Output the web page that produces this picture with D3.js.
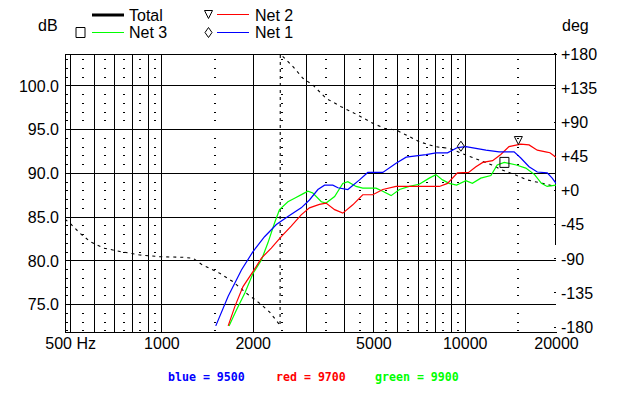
<!DOCTYPE html>
<html>
<head>
<meta charset="utf-8">
<script src="https://cdn.jsdelivr.net/npm/d3@7"></script>
<style>
  body { margin: 0; background: #fff; }
  text { font-family: "Liberation Sans", Arial, sans-serif; }
</style>
</head>
<body>
<script>
const width = 624;
const height = 396;
const plotLeft = 65, plotRight = 556, plotTop = 54, plotBottom = 332;

// frequency (Hz), level (dB)
const net1 = [
  [1511, 72.5], [1660, 75.9], [1836, 78.9], [2004, 81.0], [2188, 82.7],
  [2393, 84.1], [2613, 85.0], [2890, 86.0], [3077, 86.9], [3281, 88.1],
  [3451, 88.6], [3675, 88.6], [3819, 88.3], [4118, 88.1], [4500, 89.2],
  [4791, 90.05], [5369, 90.05], [5940, 91.1], [6411, 91.8], [7456, 92.1],
  [8040, 92.3], [8778, 92.3], [9463, 92.9], [10090, 93.0], [10890, 92.8],
  [11750, 92.6], [12980, 92.4], [14550, 92.4], [15310, 91.7], [16300, 90.7],
  [17350, 90.1], [18710, 90.0], [19430, 89.4], [20000, 88.8],
];
const net2 = [
  [1660, 72.5], [1746, 74.7], [1858, 77.0], [2004, 78.7], [2137, 80.25],
  [2303, 81.4], [2484, 82.7], [2679, 83.9], [2890, 85.2], [3077, 86.0],
  [3320, 86.4], [3490, 86.55], [3725, 85.8], [3964, 85.4], [4276, 86.35],
  [4612, 87.5], [4977, 87.5], [5369, 88.1], [5940, 88.45], [7456, 88.45],
  [8250, 88.45], [8778, 88.8], [9463, 90.0], [10300, 90.05], [10890, 90.7],
  [11470, 91.2], [12360, 91.4], [13150, 92.1], [14000, 93.0], [15300, 93.3],
  [16300, 93.2], [17350, 92.6], [18490, 92.4], [19100, 92.3], [20000, 91.8],
];
const net3 = [
  [1671, 72.5], [1766, 74.3], [1884, 76.25], [2004, 78.5], [2137, 80.05],
  [2245, 82.0], [2362, 84.3], [2452, 85.8], [2613, 86.7], [2749, 87.1],
  [2926, 87.6], [3040, 87.9], [3157, 87.7], [3367, 86.7], [3490, 86.55],
  [3725, 87.3], [3964, 88.8], [4118, 89.0], [4385, 88.45], [4612, 88.26],
  [5100, 88.26], [5369, 87.9], [5720, 87.4], [6095, 88.1], [6565, 88.45],
  [7080, 88.7], [7640, 89.4], [8040, 89.8], [8450, 89.2], [8890, 88.8],
  [9400, 88.6], [10090, 89.1], [10600, 88.8], [11300, 89.4], [12200, 89.7],
  [12800, 90.9], [13500, 91.2], [14800, 90.9], [15900, 90.55], [17000, 89.8],
  [17900, 88.8], [18700, 88.45], [20000, 88.6],
];
// frequency (Hz), phase (deg)
const totalPhase = [
  [481, -38.6], [500, -43.9], [539, -57], [582, -68], [644, -76.5],
  [730, -81], [849, -85.6], [989, -87.9], [1180, -88.7], [1273, -90],
  [1355, -97.9], [1557, -109.8], [1721, -120.8], [1906, -136], [2109, -149.3],
  [2275, -161], [2423, -174.8], [2462, -179], [2466, 179], [2506, 176.5],
  [2716, 162.5], [2928, 147.2], [3157, 138.4], [3490, 120.8], [3914, 109.8],
  [4440, 98.8], [4977, 87.9], [5438, 81.3], [5940, 79], [6411, 72.5],
  [7080, 63.6], [8025, 57], [8890, 54.9], [10090, 46.1], [11170, 39.5],
  [12300, 32.9], [13300, 26.4], [14720, 19.8], [16090, 13.2], [18030, 8.8],
  [20000, 4.3],
];

// markers: [freq, dB]
const net1Marker = [9716, 93.05];
const net2Marker = [15030, 93.7];
const net3Marker = [13520, 91.2];

const dbTicks = [75, 80, 85, 90, 95, 100];
const degTicks = [-180, -135, -90, -45, 0, 45, 90, 135, 180];
const freqMajor = [500, 600, 700, 800, 900, 1000, 2000, 3000, 4000, 5000,
  6000, 7000, 8000, 9000, 10000];
const freqMinor = [490, 550, 650, 750, 850, 950, 1500, 2500, 3500, 4500,
  5500, 6500, 7500, 8500, 9500, 15000];
const freqLabels = [500, 1000, 2000, 5000, 10000, 20000];

const svg = d3.select("body").append("svg")
  .attr("width", width)
  .attr("height", height);

const x = d3.scaleLog().domain([481, 20000]).range([plotLeft, plotRight]);
const yDb = d3.scaleLinear().domain([71.8, 103.6]).range([plotBottom, plotTop]);
const yDeg = d3.scaleLinear().domain([-180, 180]).range([326.6, 53.4]);

// grid
const grid = svg.append("g").attr("shape-rendering", "crispEdges");

// minor dots, one every dB
const dbMinor = d3.range(72, 104).filter((d) => d % 5 !== 0);
freqMinor.forEach((f) => {
  grid.selectAll(null)
    .data(dbMinor)
    .enter()
    .append("line")
    .attr("x1", Math.round(x(f)) - 1)
    .attr("x2", Math.round(x(f)) + 1)
    .attr("y1", (d) => Math.round(yDb(d)) + 0.5)
    .attr("y2", (d) => Math.round(yDb(d)) + 0.5)
    .attr("stroke", "#000");
});

grid.selectAll(".hgrid")
  .data(dbTicks)
  .enter()
  .append("line")
  .attr("x1", plotLeft)
  .attr("x2", plotRight)
  .attr("y1", (d) => Math.round(yDb(d)) + 0.5)
  .attr("y2", (d) => Math.round(yDb(d)) + 0.5)
  .attr("stroke", "#000");

grid.selectAll(".vgrid")
  .data(freqMajor)
  .enter()
  .append("line")
  .attr("x1", (d) => Math.round(x(d)) + 0.5)
  .attr("x2", (d) => Math.round(x(d)) + 0.5)
  .attr("y1", plotTop)
  .attr("y2", plotBottom)
  .attr("stroke", "#000");

// frame
grid.append("line")
  .attr("x1", plotLeft).attr("x2", plotRight + 1)
  .attr("y1", plotTop + 0.5).attr("y2", plotTop + 0.5)
  .attr("stroke", "#000");
grid.append("line")
  .attr("x1", plotLeft).attr("x2", plotRight + 1)
  .attr("y1", plotBottom + 0.5).attr("y2", plotBottom + 0.5)
  .attr("stroke", "#000");
grid.append("line")
  .attr("x1", plotLeft + 0.5).attr("x2", plotLeft + 0.5)
  .attr("y1", plotTop).attr("y2", plotBottom)
  .attr("stroke", "#000");
grid.append("line")
  .attr("x1", x(20000) - 0.5).attr("x2", x(20000) - 0.5)
  .attr("y1", plotTop).attr("y2", 245)
  .attr("stroke", "#000");

// axes
const fontCss = "16px 'Liberation Sans', Arial, sans-serif";

const dbAxis = d3.axisLeft(yDb)
  .tickValues(dbTicks)
  .tickFormat(d3.format(".1f"))
  .tickSize(0)
  .tickPadding(6);
svg.append("g")
  .attr("transform", `translate(${plotLeft},0)`)
  .call(dbAxis)
  .call((g) => g.select(".domain").remove())
  .selectAll("text")
  .style("font", fontCss)
  .attr("dy", "0.36em");

const degAxis = d3.axisRight(yDeg)
  .tickValues(degTicks)
  .tickFormat((d) => (d > 0 ? "+" + d : d === 0 ? "+0" : "-" + Math.abs(d)))
  .tickSizeInner(-2)
  .tickSizeOuter(0)
  .tickPadding(5);
svg.append("g")
  .attr("transform", `translate(${plotRight},0)`)
  .attr("shape-rendering", "crispEdges")
  .call(degAxis)
  .call((g) => g.select(".domain").remove())
  .selectAll("text")
  .style("font", fontCss)
  .attr("dy", "0.36em");

const freqAxis = d3.axisBottom(x)
  .tickValues(freqLabels)
  .tickFormat((d) => (d === 500 ? "500 Hz" : d))
  .tickSize(0)
  .tickPadding(5.5);
svg.append("g")
  .attr("transform", `translate(0,${plotBottom})`)
  .call(freqAxis)
  .call((g) => g.select(".domain").remove())
  .selectAll("text")
  .style("font", fontCss);

svg.append("text").attr("x", 38).attr("y", 31).style("font", fontCss).text("dB");
svg.append("text").attr("x", 562).attr("y", 31).style("font", fontCss).text("deg");

// curves
svg.append("clipPath").attr("id", "plot")
  .append("rect")
  .attr("x", plotLeft).attr("y", plotTop)
  .attr("width", plotRight - plotLeft).attr("height", plotBottom - plotTop);

const plot = svg.append("g").attr("clip-path", "url(#plot)");

const dbLine = d3.line().x((d) => x(d[0])).y((d) => yDb(d[1]));
const degLine = d3.line().x((d) => x(d[0])).y((d) => yDeg(d[1]));

plot.append("path")
  .attr("d", degLine(totalPhase))
  .attr("fill", "none")
  .attr("stroke", "#000")
  .attr("stroke-width", 1.1)
  .attr("stroke-dasharray", "3,4");

plot.append("path").attr("d", dbLine(net3))
  .attr("fill", "none").attr("stroke", "#00ff00").attr("stroke-width", 1.2);
plot.append("path").attr("d", dbLine(net2))
  .attr("fill", "none").attr("stroke", "#ff0000").attr("stroke-width", 1.2);
plot.append("path").attr("d", dbLine(net1))
  .attr("fill", "none").attr("stroke", "#0000ff").attr("stroke-width", 1.2);

// marker shapes
const diamond = (cx, cy) => `M${cx},${cy - 5}L${cx + 3.5},${cy}L${cx},${cy + 5}L${cx - 3.5},${cy}Z`;
const triDown = (cx, cy) => `M${cx - 4},${cy - 4}L${cx + 4},${cy - 4}L${cx},${cy + 4}Z`;
const square = (cx, cy) => `M${cx - 4.5},${cy - 5}h9v10h-9Z`;

const markerG = svg.append("g")
  .attr("fill", "none")
  .attr("stroke", "#000")
  .attr("stroke-width", 1);

markerG.append("path").attr("d", diamond(x(net1Marker[0]), yDb(net1Marker[1])));
markerG.append("path").attr("d", triDown(x(net2Marker[0]), yDb(net2Marker[1])));
markerG.append("path").attr("d", square(x(net3Marker[0]), yDb(net3Marker[1])));

// legend
const legend = svg.append("g");
legend.append("line")
  .attr("x1", 92).attr("x2", 124).attr("y1", 15).attr("y2", 15)
  .attr("stroke", "#000").attr("stroke-width", 3);
legend.append("text").attr("x", 129).attr("y", 21).style("font", fontCss).text("Total");

legend.append("path").attr("d", square(80.5, 32.5))
  .attr("fill", "none").attr("stroke", "#000");
legend.append("line")
  .attr("x1", 92).attr("x2", 124).attr("y1", 32.5).attr("y2", 32.5)
  .attr("stroke", "#00ff00");
legend.append("text").attr("x", 129).attr("y", 38).style("font", fontCss).text("Net 3");

legend.append("path").attr("d", triDown(208.5, 14.5))
  .attr("fill", "none").attr("stroke", "#000");
legend.append("line")
  .attr("x1", 217).attr("x2", 249).attr("y1", 14.5).attr("y2", 14.5)
  .attr("stroke", "#ff0000");
legend.append("text").attr("x", 255).attr("y", 21).style("font", fontCss).text("Net 2");

legend.append("path").attr("d", diamond(208.5, 32.5))
  .attr("fill", "none").attr("stroke", "#000");
legend.append("line")
  .attr("x1", 217).attr("x2", 249).attr("y1", 32.5).attr("y2", 32.5)
  .attr("stroke", "#0000ff");
legend.append("text").attr("x", 255).attr("y", 38).style("font", fontCss).text("Net 1");

// notes under the chart
const notes = [
  { label: "blue = 9500", color: "#0000ff", x: 168 },
  { label: "red = 9700", color: "#ff0000", x: 276 },
  { label: "green = 9900", color: "#00ff00", x: 375 },
];
svg.selectAll(".note")
  .data(notes)
  .enter()
  .append("text")
  .attr("x", (d) => d.x)
  .attr("y", 381)
  .attr("fill", (d) => d.color)
  .style("font", "bold 11.6px 'DejaVu Sans Mono', monospace")
  .text((d) => d.label);
</script>
</body>
</html>
